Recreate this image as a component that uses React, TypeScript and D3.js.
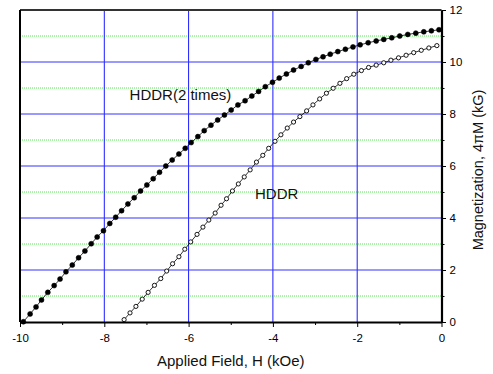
import { useEffect, useRef } from 'react'
import * as d3 from 'd3'

// HDDR (2 times) — filled markers
const FIELD_2X = [
  -9.92, -9.76, -9.62, -9.49, -9.34, -9.19, -9.05, -8.91, -8.76, -8.61,
  -8.46, -8.31, -8.17, -8.02, -7.87, -7.73, -7.59, -7.44, -7.29, -7.14,
  -6.99, -6.84, -6.69, -6.54, -6.39, -6.23, -6.08, -5.94, -5.78, -5.63,
  -5.47, -5.31, -5.15, -4.99, -4.83, -4.66, -4.50, -4.34, -4.18, -4.01,
  -3.85, -3.68, -3.51, -3.33, -3.16, -2.98, -2.81, -2.64, -2.46, -2.28,
  -2.10, -1.93, -1.74, -1.55, -1.37, -1.18, -0.99, -0.80, -0.61, -0.42,
  -0.24, -0.06,
]
const MAG_2X = [
  0.01, 0.31, 0.58, 0.85, 1.14, 1.40, 1.65, 1.93, 2.19, 2.47,
  2.73, 3.01, 3.27, 3.51, 3.79, 4.03, 4.28, 4.54, 4.78, 5.04,
  5.27, 5.51, 5.76, 6.00, 6.23, 6.46, 6.68, 6.90, 7.13, 7.36,
  7.57, 7.77, 7.96, 8.15, 8.35, 8.51, 8.69, 8.87, 9.05, 9.22,
  9.38, 9.54, 9.69, 9.83, 9.97, 10.10, 10.20, 10.30, 10.40, 10.49,
  10.58, 10.66, 10.74, 10.81, 10.87, 10.93, 11.00, 11.06, 11.11, 11.16,
  11.20, 11.24,
]

// HDDR — open markers
const FIELD_1X = [
  -7.53, -7.39, -7.25, -7.10, -6.96, -6.81, -6.66, -6.52, -6.38, -6.23,
  -6.09, -5.95, -5.80, -5.66, -5.52, -5.37, -5.23, -5.10, -4.96, -4.82,
  -4.68, -4.54, -4.39, -4.24, -4.10, -3.95, -3.81, -3.66, -3.51, -3.36,
  -3.20, -3.05, -2.89, -2.73, -2.57, -2.41, -2.25, -2.08, -1.90, -1.73,
  -1.55, -1.37, -1.20, -1.02, -0.84, -0.66, -0.48, -0.30, -0.11,
]
const MAG_1X = [
  0.09, 0.35, 0.60, 0.88, 1.14, 1.41, 1.67, 1.96, 2.24, 2.51,
  2.80, 3.08, 3.37, 3.65, 3.92, 4.19, 4.49, 4.74, 5.04, 5.31,
  5.58, 5.85, 6.15, 6.41, 6.68, 6.95, 7.20, 7.46, 7.69, 7.90,
  8.12, 8.35, 8.58, 8.80, 8.99, 9.18, 9.36, 9.53, 9.67, 9.79,
  9.88, 9.97, 10.07, 10.16, 10.26, 10.36, 10.45, 10.54, 10.63,
]

const X_TICKS = [-10, -8, -6, -4, -2, 0]
const X_MINOR = [-9, -7, -5, -3, -1]
const X_GRID = [-8, -6, -4, -2]
const Y_TICKS = [0, 2, 4, 6, 8, 10, 12]
const Y_MINOR = [1, 3, 5, 7, 9, 11]
const Y_GRID = [2, 4, 6, 8, 10]

const FONT = '"Liberation Sans", Arial, sans-serif'

export default function App() {
  const svgRef = useRef<SVGSVGElement>(null)

  useEffect(() => {
    document.body.style.margin = '0'
    const svgEl = svgRef.current
    if (!svgEl) return

    const totalW = 493
    const totalH = 374
    const margin = { top: 10, right: 51.5, bottom: 52, left: 20 }
    const W = totalW - margin.left - margin.right
    const H = totalH - margin.top - margin.bottom

    d3.select(svgEl).selectAll('*').remove()
    const svg = d3.select(svgEl)
      .append('g')
      .attr('transform', `translate(${margin.left},${margin.top})`)

    const x = d3.scaleLinear().domain([-10, 0]).range([0, W])
    const y = d3.scaleLinear().domain([0, 12]).range([H, 0])

    // minor grid (green dotted)
    Y_MINOR.forEach(v => {
      svg.append('line')
        .attr('x1', 0).attr('x2', W)
        .attr('y1', y(v)).attr('y2', y(v))
        .attr('stroke', '#55e855').attr('stroke-width', 1)
        .attr('stroke-dasharray', '1 1')
    })

    // major grid (blue)
    X_GRID.forEach(v => {
      svg.append('line')
        .attr('x1', x(v)).attr('x2', x(v))
        .attr('y1', 0).attr('y2', H)
        .attr('stroke', '#1a1aff').attr('stroke-width', 1)
    })
    Y_GRID.forEach(v => {
      svg.append('line')
        .attr('x1', 0).attr('x2', W)
        .attr('y1', y(v)).attr('y2', y(v))
        .attr('stroke', '#3333ff').attr('stroke-width', 1)
    })

    const series = [
      { field: FIELD_2X, mag: MAG_2X, filled: true },
      { field: FIELD_1X, mag: MAG_1X, filled: false },
    ]

    const line = d3.line<[number, number]>()
      .x(d => x(d[0]))
      .y(d => y(d[1]))

    series.forEach(s => {
      const pts = s.field.map((f, i) => [f, s.mag[i]] as [number, number])
      svg.append('path')
        .attr('d', line(pts))
        .attr('fill', 'none')
        .attr('stroke', '#000')
        .attr('stroke-width', 0.8)

      svg.append('g')
        .selectAll('circle')
        .data(pts)
        .enter()
        .append('circle')
        .attr('cx', d => x(d[0]))
        .attr('cy', d => y(d[1]))
        .attr('r', s.filled ? 2.5 : 2.1)
        .attr('fill', s.filled ? '#000' : '#fff')
        .attr('stroke', '#000')
        .attr('stroke-width', s.filled ? 0.5 : 0.9)
    })

    // frame
    svg.append('line')
      .attr('x1', 0).attr('x2', W).attr('y1', 0).attr('y2', 0)
      .attr('stroke', '#333').attr('stroke-width', 2)
    svg.append('line')
      .attr('x1', 0).attr('x2', 0).attr('y1', 0).attr('y2', H)
      .attr('stroke', '#000').attr('stroke-width', 2)

    const styleAxis = (ax: d3.Selection<SVGGElement, unknown, null, undefined>) => {
      ax.select('.domain').attr('stroke-width', 2.2)
      ax.selectAll('.tick line').attr('stroke-width', 1)
      ax.selectAll('.tick text')
        .attr('font-family', FONT)
        .attr('font-size', 11.5)
        .attr('fill', '#000')
    }

    svg.append('g')
      .attr('transform', `translate(0,${H})`)
      .call(d3.axisBottom(x).tickValues(X_MINOR).tickSize(3).tickSizeOuter(0).tickFormat(() => ''))
      .call(ax => ax.select('.domain').remove())

    svg.append('g')
      .attr('transform', `translate(0,${H})`)
      .call(d3.axisBottom(x).tickValues(X_TICKS).tickSize(5).tickSizeOuter(0).tickPadding(6.5)
        .tickFormat(v => `${v}`))
      .call(styleAxis)

    svg.append('g')
      .attr('transform', `translate(${W},0)`)
      .call(d3.axisRight(y).tickValues(Y_MINOR).tickSize(3).tickSizeOuter(0).tickFormat(() => ''))
      .call(ax => ax.select('.domain').remove())

    svg.append('g')
      .attr('transform', `translate(${W},0)`)
      .call(d3.axisRight(y).tickValues(Y_TICKS).tickSize(4.5).tickSizeOuter(0).tickPadding(3.5)
        .tickFormat(v => `${v}`))
      .call(styleAxis)

    // curve labels
    svg.append('text')
      .attr('x', x(-7.4)).attr('y', 90)
      .attr('font-family', FONT).attr('font-size', 15).attr('fill', '#111')
      .text('HDDR(2 times)')

    svg.append('text')
      .attr('x', x(-4.425)).attr('y', 188.5)
      .attr('font-family', FONT).attr('font-size', 15).attr('fill', '#111')
      .text('HDDR')

    // axis titles
    svg.append('text')
      .attr('x', W / 2).attr('y', H + 44)
      .attr('text-anchor', 'middle')
      .attr('font-family', FONT).attr('font-size', 15).attr('fill', '#111')
      .text('Applied Field, H (kOe)')

    svg.append('text')
      .attr('transform', `translate(${W + 41},${H / 2 + 4}) rotate(-90)`)
      .attr('text-anchor', 'middle')
      .attr('font-family', FONT).attr('font-size', 14.5).attr('fill', '#111')
      .text('Magnetization, 4πM (kG)')
  }, [])

  return <svg ref={svgRef} width={493} height={374} style={{ display: 'block' }} />
}
